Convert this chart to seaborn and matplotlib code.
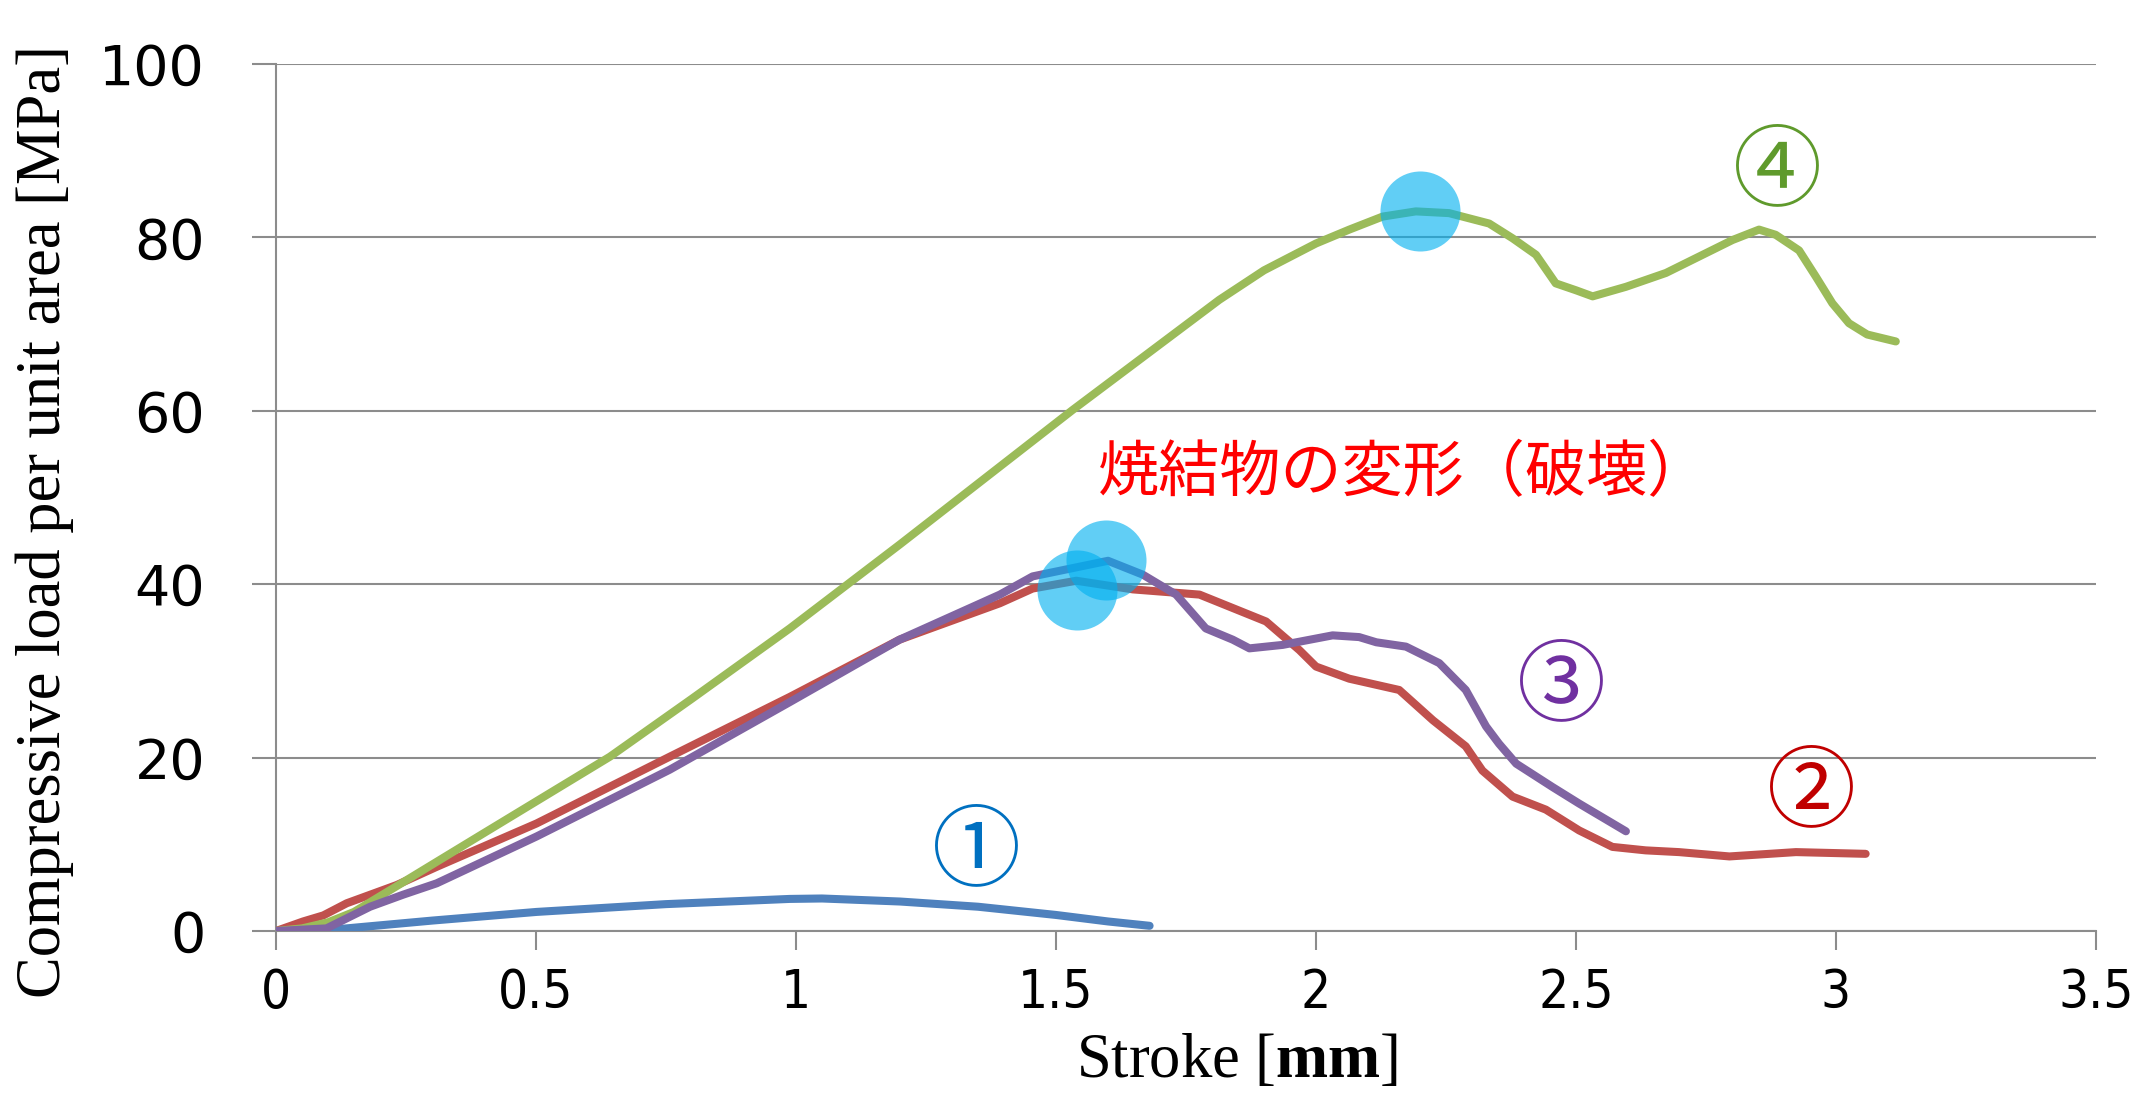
import matplotlib
matplotlib.use("Agg")
import matplotlib.pyplot as plt
import seaborn as sns
import pandas as pd
from matplotlib import font_manager

# curve ① (blue)
stroke_1 = [0, 0.117, 0.3, 0.501, 0.75, 0.988, 1.05, 1.2, 1.35, 1.5, 1.6, 1.68]
load_1 = [0, 0.2, 1.2, 2.2, 3.1, 3.7, 3.75, 3.4, 2.8, 1.85, 1.1, 0.6]

# curve ② (red)
stroke_2 = [0, 0.052, 0.091, 0.136, 0.232, 0.309, 0.501, 0.757, 0.988, 1.199, 1.392,
            1.455, 1.539, 1.648, 1.776, 1.904, 1.968, 2.0, 2.064, 2.16, 2.225, 2.288,
            2.32, 2.378, 2.442, 2.506, 2.57, 2.634, 2.698, 2.795, 2.923, 3.057]
load_2 = [0, 1.1, 1.8, 3.2, 5.3, 7.4, 12.4, 20.1, 27.0, 33.6, 37.8,
          39.5, 40.4, 39.4, 38.8, 35.7, 32.4, 30.5, 29.1, 27.8, 24.3, 21.3,
          18.5, 15.5, 14.0, 11.6, 9.7, 9.3, 9.1, 8.6, 9.1, 8.9]

# curve ④ (green)
stroke_4 = [0, 0.05, 0.1, 0.15, 0.23, 0.4, 0.642, 0.8, 0.988, 1.2, 1.532, 1.814, 1.9,
            2.0, 2.064, 2.128, 2.192, 2.256, 2.333, 2.378, 2.423, 2.461, 2.5, 2.532,
            2.596, 2.673, 2.737, 2.801, 2.852, 2.884, 2.929, 2.961, 2.993, 3.025,
            3.06, 3.115]
load_4 = [0, 0.3, 1.0, 2.2, 5.1, 11.3, 20.1, 26.8, 34.9, 44.6, 60.1, 72.8, 76.2,
          79.3, 80.9, 82.4, 83.0, 82.8, 81.6, 79.9, 78.0, 74.7, 73.9, 73.2,
          74.3, 75.9, 77.8, 79.7, 80.9, 80.3, 78.5, 75.5, 72.4, 70.1,
          68.8, 68.0]

# curve ③ (purple)
stroke_3 = [0, 0.097, 0.181, 0.245, 0.309, 0.501, 0.757, 0.988, 1.199, 1.392, 1.455,
            1.6, 1.667, 1.731, 1.788, 1.84, 1.872, 1.936, 2.032, 2.083, 2.116, 2.173,
            2.237, 2.288, 2.327, 2.352, 2.385, 2.455, 2.506, 2.596]
load_3 = [0, 0.3, 2.8, 4.2, 5.5, 10.9, 18.6, 26.4, 33.6, 38.8, 40.9,
          42.7, 41.1, 38.8, 34.9, 33.6, 32.6, 33.0, 34.1, 33.9, 33.3, 32.8,
          30.9, 27.8, 23.6, 21.6, 19.3, 16.6, 14.7, 11.5]

# fracture points
break_stroke = [2.20, 1.597, 1.540]
break_load = [83.0, 42.8, 39.3]

# circled labels
label_text = ["①", "②", "③", "④"]
label_x = [1.347, 2.953, 2.471, 2.887]
label_y = [9.0, 15.8, 28.0, 87.4]
label_colors = ["#0070C0", "#C00000", "#7030A0", "#5F9A2C"]

x_ticks = [0, 0.5, 1, 1.5, 2, 2.5, 3, 3.5]
x_ticklabels = ["0", "0.5", "1", "1.5", "2", "2.5", "3", "3.5"]
y_ticks = [0, 20, 40, 60, 80, 100]
y_ticklabels = ["0", "20", "40", "60", "80", "100"]

series = [
    (stroke_1, load_1, "#4F81BD"),
    (stroke_2, load_2, "#C0504D"),
    (stroke_4, load_4, "#9BBB59"),
    (stroke_3, load_3, "#8064A2"),
]

sns.set_style("white")
plt.rcParams["font.family"] = ["DejaVu Sans"]
plt.rcParams["mathtext.fontset"] = "custom"
plt.rcParams["mathtext.rm"] = "Liberation Serif"
plt.rcParams["mathtext.bf"] = "Liberation Serif:bold"

# narrow font for the x tick labels, if one is installed
installed = {f.name for f in font_manager.fontManager.ttflist}
narrow_stretch = {(f.name, f.stretch) for f in font_manager.fontManager.ttflist}
if "Liberation Sans Narrow" in installed:
    xtick_font = dict(family="Liberation Sans Narrow")
elif any(n == "DejaVu Sans" and s in ("condensed", 700, "semi-condensed") for n, s in narrow_stretch):
    xtick_font = dict(family="DejaVu Sans", stretch="condensed")
else:
    xtick_font = dict(family="Liberation Sans")

fig = plt.figure(figsize=(21.34, 10.94), dpi=100)
ax = fig.add_axes([276 / 2134, 1 - 931 / 1094, (2096 - 276) / 2134, (931 - 64) / 1094])

for xs, ys, col in series:
    df = pd.DataFrame({"x": xs, "y": ys})
    sns.lineplot(data=df, x="x", y="y", sort=False, estimator=None, color=col,
                 linewidth=5.8, ax=ax, solid_capstyle="round", zorder=3)

sns.scatterplot(x=break_stroke, y=break_load, s=3320, color="#00B0F0", alpha=0.62,
                linewidth=0, ax=ax, zorder=4)

for t, x, y, c in zip(label_text, label_x, label_y, label_colors):
    ax.text(x, y, t, color=c, fontsize=64, ha="center", va="center",
            family=["Noto Sans CJK JP", "DejaVu Sans"], zorder=5)

ax.text(2.169, 52.7, "焼結物の変形（破壊）", color="#FF0000", fontsize=44,
        ha="center", va="center", family=["Noto Sans CJK JP", "DejaVu Sans"], zorder=5)

ax.set_xlim(0, 3.5)
ax.set_ylim(0, 100)
ax.set_xticks(x_ticks)
ax.set_xticklabels(x_ticklabels, fontsize=38, color="black", **xtick_font)
ax.set_yticks(y_ticks)
ax.set_yticklabels(y_ticklabels, fontsize=40, color="black")
ax.set_xlabel("")
ax.set_ylabel("")

ax.grid(axis="y", color="#8C8C8C", linewidth=1.5)
ax.grid(axis="x", visible=False)
for side in ["top", "right"]:
    ax.spines[side].set_visible(False)
for side in ["left", "bottom"]:
    ax.spines[side].set_color("#8C8C8C")
    ax.spines[side].set_linewidth(1.5)
ax.tick_params(axis="y", direction="out", length=17, width=1.5, color="#8C8C8C",
               pad=34, left=True)
ax.tick_params(axis="x", direction="out", length=14, width=1.5, color="#8C8C8C",
               pad=12, bottom=True)

fig.text(45 / 2134, 0.523, "Compressive load per unit area [MPa]", rotation=90,
         ha="center", va="center", fontsize=45, family="Liberation Serif", color="black")
fig.text(1237 / 2134, 17 / 1094, r"Stroke [$\mathbf{mm}$]", ha="center", va="baseline",
         fontsize=45, family="Liberation Serif", color="black")

fig.savefig("out.png", dpi=100)
